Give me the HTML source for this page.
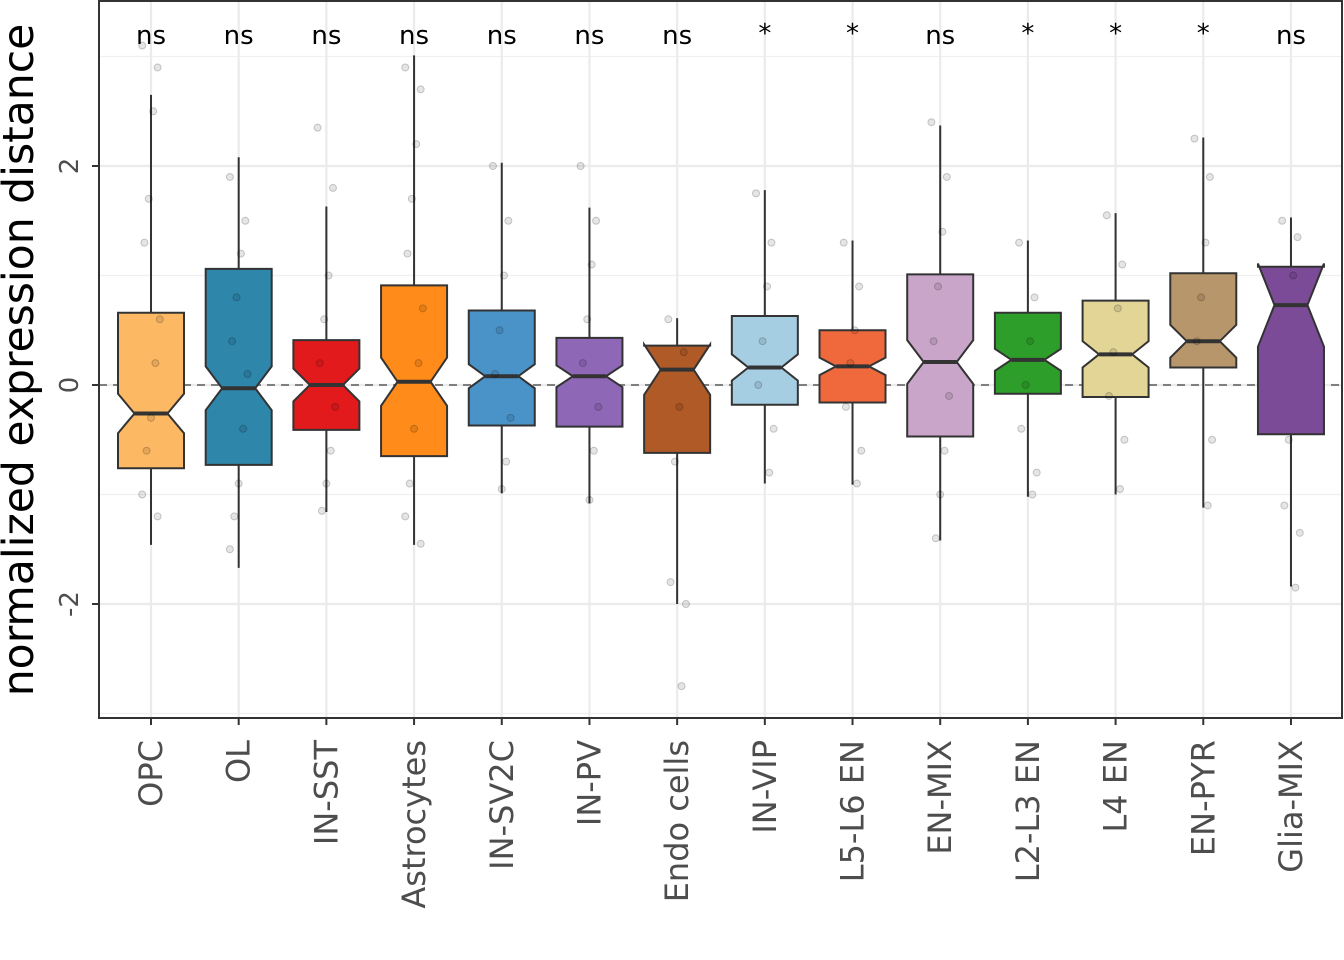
<!DOCTYPE html>
<html><head><meta charset="utf-8"><style>
body{margin:0;background:#fff;}
svg{display:block;font-family:"DejaVu Sans","Liberation Sans",sans-serif;}
</style></head><body>
<svg id="chart" width="1344" height="960"></svg>
<script>
const categories=["OPC","OL","IN-SST","Astrocytes","IN-SV2C","IN-PV","Endo cells","IN-VIP","L5-L6 EN","EN-MIX","L2-L3 EN","L4 EN","EN-PYR","Glia-MIX"];
const q1=[-0.76,-0.73,-0.41,-0.65,-0.37,-0.38,-0.62,-0.18,-0.16,-0.47,-0.08,-0.11,0.16,-0.45];
const q3=[0.66,1.06,0.41,0.91,0.68,0.43,0.36,0.63,0.50,1.01,0.66,0.77,1.02,1.08];
const medians=[-0.26,-0.03,0.0,0.03,0.08,0.08,0.14,0.16,0.17,0.21,0.23,0.28,0.40,0.73];
const whiskLow=[-1.46,-1.67,-1.16,-1.46,-0.99,-1.08,-2.0,-0.9,-0.91,-1.42,-1.02,-1.0,-1.12,-1.84];
const whiskHigh=[2.65,2.08,1.63,3.01,2.03,1.62,0.61,1.78,1.32,2.37,1.32,1.57,2.26,1.53];
const notch=[0.18,0.2,0.15,0.22,0.11,0.1,0.23,0.12,0.08,0.2,0.1,0.12,0.15,0.38];
const signif=["ns","ns","ns","ns","ns","ns","ns","*","*","ns","*","*","*","ns"];
const colors=["#FDB863","#2E86AB","#E31A1C","#FF8C1A","#4A93C9","#8E67B7","#B05A28","#A6CEE3","#F0693D","#C9A6C9","#2E9E2A","#E2D596","#B8966B","#7B4B98"];
const samplePoints=[[3.1,2.9,2.5,1.7,1.3,0.6,0.2,-0.3,-0.6,-1.0,-1.2],[1.9,1.5,1.2,0.8,0.4,0.1,-0.4,-0.9,-1.2,-1.5],[2.35,1.8,1.0,0.6,0.2,-0.2,-0.6,-0.9,-1.15],[2.9,2.7,2.2,1.7,1.2,0.7,0.2,-0.4,-0.9,-1.2,-1.45],[2.0,1.5,1.0,0.5,0.1,-0.3,-0.7,-0.95],[2.0,1.5,1.1,0.6,0.2,-0.2,-0.6,-1.05],[0.6,0.3,-0.2,-0.7,-1.8,-2.0,-2.75],[1.75,1.3,0.9,0.4,0.0,-0.4,-0.8],[1.3,0.9,0.5,0.2,-0.2,-0.6,-0.9],[2.4,1.9,1.4,0.9,0.4,-0.1,-0.6,-1.0,-1.4],[1.3,0.8,0.4,0.0,-0.4,-0.8,-1.0],[1.55,1.1,0.7,0.3,-0.1,-0.5,-0.95],[2.25,1.9,1.3,0.8,0.4,-0.5,-1.1],[1.5,1.35,1.0,-0.5,-1.1,-1.35,-1.85]];
const yTicks=[-2,0,2];
const yMinor=[-3,-1,1,3];

const NS="http://www.w3.org/2000/svg";
const svg=document.getElementById('chart');
const L=99,R=1342,T=0,B=718;
const y=v=>385-v*109.5;
const x=i=>151+i*87.69;
function mk(t,a,p){const e=document.createElementNS(NS,t);for(const k in a)e.setAttribute(k,a[k]);(p||svg).appendChild(e);return e;}

let bg=mk('rect',{x:L,y:T,width:R-L,height:B-T,fill:'#fff'});


yMinor.forEach(v=>{let l=mk('line',{x1:L,x2:R,y1:y(v),y2:y(v),stroke:'#f0f0f0','stroke-width':1.2});

});
yTicks.forEach(v=>{let l=mk('line',{x1:L,x2:R,y1:y(v),y2:y(v),stroke:'#ebebeb','stroke-width':2.2});

});
categories.forEach((c,i)=>{let l=mk('line',{x1:x(i),x2:x(i),y1:T,y2:B,stroke:'#ebebeb','stroke-width':2.2});

});
let zl=mk('line',{x1:L,x2:R,y1:y(0),y2:y(0),stroke:'#7f7f7f','stroke-width':2,'stroke-dasharray':'8,6'});



const hw=33;
categories.forEach((c,i)=>{
  const g=mk('g',{});
  
  
  const cx=x(i);
  mk('line',{x1:cx,x2:cx,y1:y(whiskHigh[i]),y2:y(q3[i]),stroke:'#333','stroke-width':2},g);
  mk('line',{x1:cx,x2:cx,y1:y(q1[i]),y2:y(whiskLow[i]),stroke:'#333','stroke-width':2},g);
  const nu=medians[i]+notch[i],nl=medians[i]-notch[i],xl=cx-hw,xr=cx+hw,ni=hw/2;
  const pts=[[xl,y(q3[i])],[xl,y(nu)],[xl+ni,y(medians[i])],[xl,y(nl)],[xl,y(q1[i])],[xr,y(q1[i])],[xr,y(nl)],[xr-ni,y(medians[i])],[xr,y(nu)],[xr,y(q3[i])]];
  mk('polygon',{points:pts.map(p=>p.join(',')).join(' '),fill:colors[i],stroke:'#333','stroke-width':2},g);
  mk('line',{x1:xl+ni,x2:xr-ni,y1:y(medians[i]),y2:y(medians[i]),stroke:'#333','stroke-width':4},g);
  samplePoints[i].forEach((v,k)=>{
    const off=((k*7)%9-4)*2.2;
    let p=mk('circle',{cx:cx+off,cy:y(v),r:3.5,fill:'rgba(0,0,0,0.1)',stroke:'rgba(0,0,0,0.2)','stroke-width':1},g);
    
    
  });
  let s=mk('text',{x:cx,y:signif[i]==='*'?42:44,'text-anchor':'middle','font-size':26,fill:'#000'});
  s.textContent=signif[i];
  
  
  let tk=mk('line',{x1:cx,x2:cx,y1:B,y2:B+7,stroke:'#333','stroke-width':2});
  
  
  let lb=mk('text',{transform:`translate(${cx+11},${B+22}) rotate(-90)`,'text-anchor':'end','font-size':32,fill:'#4d4d4d'});
  lb.textContent=c;
  
  
});
yTicks.forEach(v=>{
  let tk=mk('line',{x1:L-7,x2:L,y1:y(v),y2:y(v),stroke:'#333','stroke-width':2});
  
  
  let lb=mk('text',{transform:`translate(${L-21},${y(v)}) rotate(-90)`,'text-anchor':'middle','font-size':26,fill:'#4d4d4d'});
  lb.textContent=String(v);
  
  
});
let fr=mk('rect',{x:L,y:T+1,width:R-L,height:B-T-1,fill:'none',stroke:'#333','stroke-width':2});


let yt=mk('text',{transform:'translate(33,360) rotate(-90)','text-anchor':'middle','font-size':42.5,fill:'#000'});
yt.textContent='normalized expression distance';


</script>
</body></html>
